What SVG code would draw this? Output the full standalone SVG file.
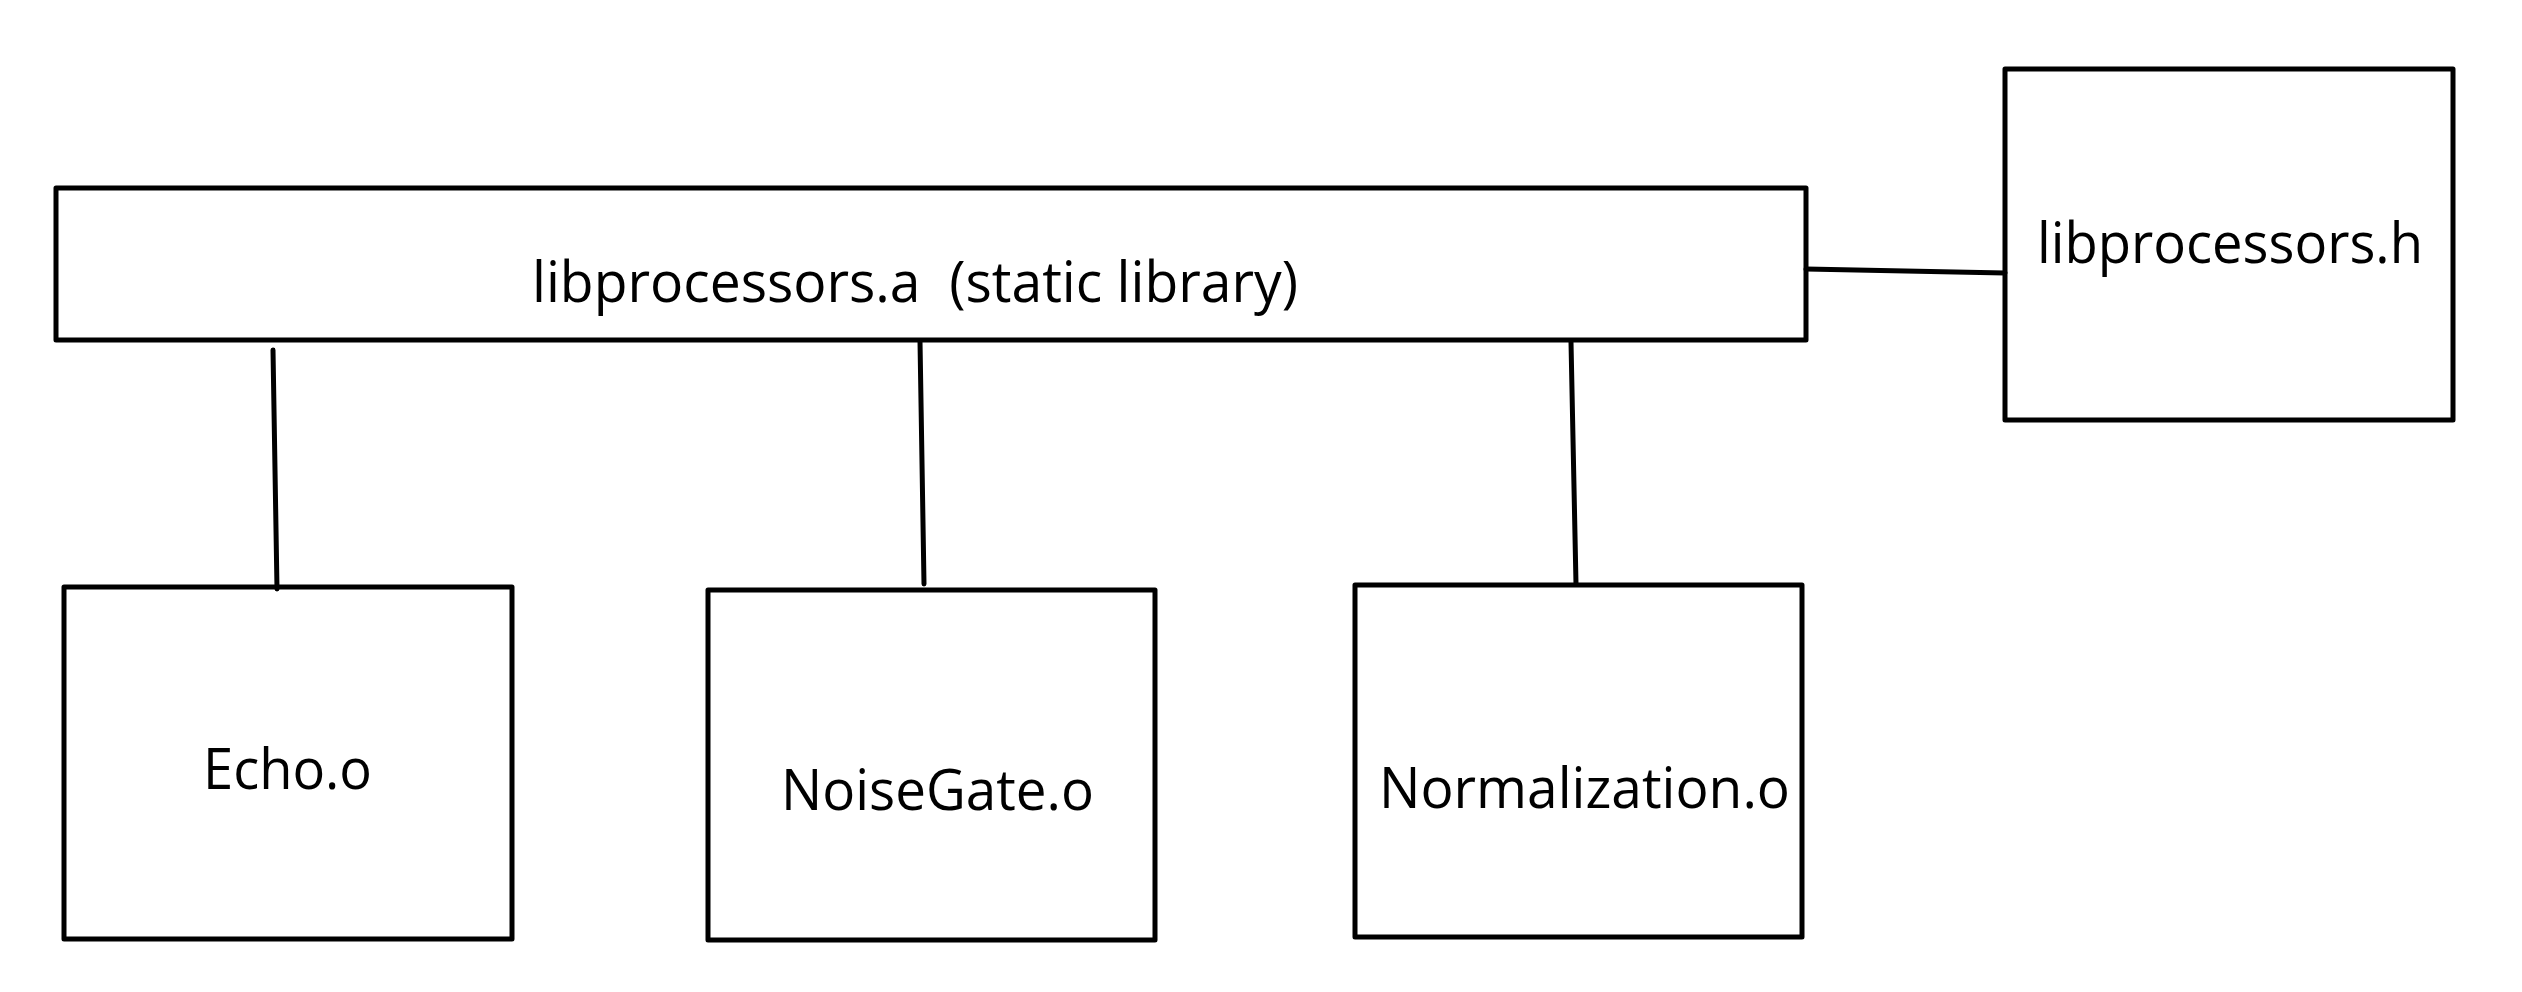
<svg xmlns="http://www.w3.org/2000/svg" width="2522" height="992" viewBox="0 0 2522 992">
<style>
.box{fill:#fff;stroke:#000;stroke-width:5;stroke-linejoin:round}
.con line{stroke:#000;stroke-width:5;stroke-linecap:round}
.lbl{font-family:"Open Sans","Noto Sans","Liberation Sans",sans-serif;font-size:56px;fill:#000}
</style>
<rect width="2522" height="992" fill="#fff"/>
<g id="libprocessors_a">
<rect class="box" x="56" y="188" width="1750" height="152"/>
<text class="lbl" x="532" y="302" textLength="766" lengthAdjust="spacingAndGlyphs" xml:space="preserve">libprocessors.a  (static library)</text>
</g>
<g id="libprocessors_h">
<rect class="box" x="2005" y="69" width="448" height="351"/>
<text class="lbl" x="2037" y="263" textLength="386" lengthAdjust="spacingAndGlyphs">libprocessors.h</text>
</g>
<g id="echo">
<rect class="box" x="64" y="587" width="448" height="352"/>
<text class="lbl" x="203" y="789" textLength="169" lengthAdjust="spacingAndGlyphs">Echo.o</text>
</g>
<g id="noisegate">
<rect class="box" x="708" y="590" width="447" height="350"/>
<text class="lbl" x="781" y="810" textLength="313" lengthAdjust="spacingAndGlyphs">NoiseGate.o</text>
</g>
<g id="normalization">
<rect class="box" x="1355" y="585" width="447" height="352"/>
<text class="lbl" x="1379" y="808" textLength="411" lengthAdjust="spacingAndGlyphs">Normalization.o</text>
</g>
<g id="connectors" class="con">
<line x1="273" y1="350" x2="277" y2="589"/>
<line x1="920" y1="341" x2="924" y2="584"/>
<line x1="1571" y1="342" x2="1576" y2="584"/>
<line x1="1806" y1="269" x2="2005" y2="273"/>
</g>
</svg>
